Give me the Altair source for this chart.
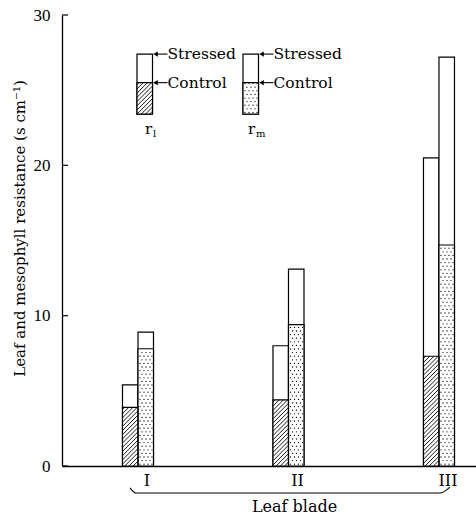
import altair as alt
import pandas as pd
import numpy as np

# ---- data ----
groups = ["I", "II", "III"]
rl_control = [3.9, 4.4, 7.3]
rl_stressed = [5.4, 8.0, 20.5]
rm_control = [7.8, 9.4, 14.7]
rm_stressed = [8.9, 13.1, 27.2]
y_ticks = [0, 10, 20, 30]

# ---- layout ----
W, H = 414, 451
X_DOM = [0.495, 3.246]
Y_DOM = [0, 30]
PX_X = W / (X_DOM[1] - X_DOM[0])
PX_Y = H / (Y_DOM[1] - Y_DOM[0])
BAR_W = 15.5 / PX_X
SERIF = "DejaVu Serif"
NUMF = "Liberation Serif"

# main bars
bars = []
for i, g in enumerate(groups):
    c = i + 1
    bars.append(dict(kind="rl", x0=c - BAR_W, x1=c, base=0.0,
                     control=rl_control[i], stressed=rl_stressed[i]))
    bars.append(dict(kind="rm", x0=c, x1=c + BAR_W, base=0.0,
                     control=rm_control[i], stressed=rm_stressed[i]))
# legend schematic (upper left)
LEG_BASE, LEG_CTRL, LEG_TOP = 23.4, 25.5, 27.4
leg_x0 = {"rl": 1 - 1 / PX_X, "rm": 1 + 105 / PX_X}
for k in ["rl", "rm"]:
    bars.append(dict(kind=k, x0=leg_x0[k], x1=leg_x0[k] + BAR_W, base=LEG_BASE,
                     control=LEG_CTRL, stressed=LEG_TOP))
bars = pd.DataFrame(bars)


def hatch(x0, x1, y0, y1, step=4.2):
    w = (x1 - x0) * PX_X
    h = (y1 - y0) * PX_Y
    out = []
    for c in np.arange(-h + step / 2, w, step):
        ya = max(0.0, -c)
        yb = min(h, w - c)
        if yb - ya < 0.5:
            continue
        out.append(dict(x=x0 + (ya + c) / PX_X, y=y0 + ya / PX_Y,
                        x2=x0 + (yb + c) / PX_X, y2=y0 + yb / PX_Y))
    return out


def dots(x0, x1, y0, y1, sx=4.0, sy=3.6):
    w = (x1 - x0) * PX_X
    h = (y1 - y0) * PX_Y
    out = []
    for j, yy in enumerate(np.arange(sy / 2, h - 0.8, sy)):
        off = 2.0 if j % 2 == 0 else 4.0
        for xx in np.arange(off, w - 1.0, sx):
            out.append(dict(x=x0 + xx / PX_X, y=y0 + yy / PX_Y))
    return out


hatch_rows, dot_rows = [], []
for _, r in bars.iterrows():
    if r.kind == "rl":
        hatch_rows += hatch(r.x0, r.x1, r.base, r.control)
    else:
        dot_rows += dots(r.x0, r.x1, r.base, r.control)
hatch_df = pd.DataFrame(hatch_rows)
dot_df = pd.DataFrame(dot_rows)

# legend annotations
ann = []
for k in ["rl", "rm"]:
    x1 = leg_x0[k] + BAR_W
    for lab, yv in [("Stressed", LEG_TOP), ("Control", LEG_CTRL)]:
        ann.append(dict(head=x1 + 3 / PX_X, tail=x1 + 15 / PX_X,
                        tx=x1 + 15 / PX_X, y=yv, label=lab))
ann = pd.DataFrame(ann)
sub = pd.DataFrame([
    dict(x=leg_x0["rl"] + 8 / PX_X, y=LEG_BASE - 1.3, main="r", s="l"),
    dict(x=leg_x0["rm"] + 5 / PX_X, y=LEG_BASE - 1.3, main="r", s="m"),
])

# brace under the groups
brace = pd.DataFrame([
    dict(x=1 - 8 / PX_X, y=-1.45, o=0),
    dict(x=1 - 2 / PX_X, y=-1.8, o=1),
    dict(x=3 + 1 / PX_X, y=-1.8, o=2),
    dict(x=3 + 11 / PX_X, y=-1.4, o=3),
])

xs = alt.Scale(domain=X_DOM, nice=False, zero=False)
ys = alt.Scale(domain=Y_DOM, nice=False)

label_vals = [i + 1 + 8.5 / PX_X for i in range(len(groups))]
xaxis = alt.Axis(values=label_vals, labelExpr="datum.value < 1.5 ? 'I' : (datum.value < 2.5 ? 'II' : 'III')",
                 ticks=False, tickSize=0, grid=False, labelPadding=6, labelFont=SERIF,
                 labelFontSize=16, labelColor="black", domainColor="black", domainWidth=1.3,
                 title="Leaf blade", titleFont=SERIF, titleFontSize=16, titleFontWeight="normal",
                 titleColor="black", titleX=232, titleY=40, titleBaseline="middle", titleAlign="center")
yaxis = alt.Axis(values=y_ticks, ticks=False, tickSize=0, grid=False, labelPadding=12,
                 labelFont=NUMF, labelFontSize=17, labelColor="black", domainColor="black",
                 domainWidth=1.3, title="Leaf and mesophyll resistance (s cm⁻¹)",
                 titleFont=SERIF, titleFontSize=15, titleFontWeight="normal", titleColor="black",
                 titleX=-43, titleY=213, titleAngle=270, titleBaseline="middle", titleAlign="center")

base = alt.Chart(bars)
axes_layer = alt.Chart(pd.DataFrame({"t": y_ticks})).mark_rule(color="black", strokeWidth=1.2).encode(
    x=alt.value(0), x2=alt.value(6), y=alt.Y("t:Q", scale=ys, axis=yaxis))
xaxis_layer = alt.Chart(pd.DataFrame({"v": label_vals})).mark_point(opacity=0).encode(
    x=alt.X("v:Q", scale=xs, axis=xaxis), y=alt.value(H))

stressed = base.mark_rect(fill="white", stroke="black", strokeWidth=1.2).encode(
    x=alt.X("x0:Q", scale=xs), x2="x1:Q", y=alt.Y("base:Q", scale=ys), y2="stressed:Q")
ctrl_fill = base.mark_rect(fill="white", strokeWidth=0).encode(
    x=alt.X("x0:Q", scale=xs), x2="x1:Q", y=alt.Y("base:Q", scale=ys), y2="control:Q")
hatch_layer = alt.Chart(hatch_df).mark_rule(color="black", strokeWidth=0.9).encode(
    x=alt.X("x:Q", scale=xs), x2="x2:Q", y=alt.Y("y:Q", scale=ys), y2="y2:Q")
dot_layer = alt.Chart(dot_df).mark_circle(color="black", size=1.6, opacity=1).encode(
    x=alt.X("x:Q", scale=xs), y=alt.Y("y:Q", scale=ys))
ctrl_outline = base.mark_rect(fillOpacity=0, stroke="black", strokeWidth=1.2).encode(
    x=alt.X("x0:Q", scale=xs), x2="x1:Q", y=alt.Y("base:Q", scale=ys), y2="control:Q")

arrows = alt.Chart(ann).mark_rule(color="black", strokeWidth=1.1).encode(
    x=alt.X("head:Q", scale=xs), x2="tail:Q", y=alt.Y("y:Q", scale=ys))
heads = alt.Chart(ann).mark_point(shape="triangle-left", filled=True, color="black", size=28,
                                  opacity=1).encode(
    x=alt.X("head:Q", scale=xs), y=alt.Y("y:Q", scale=ys))
texts = alt.Chart(ann).mark_text(align="left", baseline="middle", font=SERIF, fontSize=15.5,
                                 color="black").encode(
    x=alt.X("tx:Q", scale=xs), y=alt.Y("y:Q", scale=ys), text="label:N")
r_text = alt.Chart(sub).mark_text(align="left", baseline="alphabetic", font=SERIF, fontSize=15,
                                  color="black").encode(
    x=alt.X("x:Q", scale=xs), y=alt.Y("y:Q", scale=ys), text="main:N")
s_text = alt.Chart(sub).mark_text(align="left", baseline="alphabetic", font=SERIF, fontSize=10,
                                  color="black", dx=8, dy=3).encode(
    x=alt.X("x:Q", scale=xs), y=alt.Y("y:Q", scale=ys), text="s:N")

brace_layer = alt.Chart(brace).mark_line(color="black", strokeWidth=1.1, clip=False,
                                         interpolate="monotone").encode(
    x=alt.X("x:Q", scale=xs), y=alt.Y("y:Q", scale=ys), order="o:Q")

chart = alt.layer(
    axes_layer, xaxis_layer, stressed, ctrl_fill, hatch_layer, dot_layer, ctrl_outline,
    arrows, heads, texts, r_text, s_text, brace_layer
).properties(
    width=W, height=H, autosize=alt.AutoSizeParams(type="none"),
    padding={"left": 62, "top": 15, "right": 0, "bottom": 52}, background="white"
).configure_view(stroke=None)

chart.save("out.html", embed_options={"renderer": "svg", "actions": False})
